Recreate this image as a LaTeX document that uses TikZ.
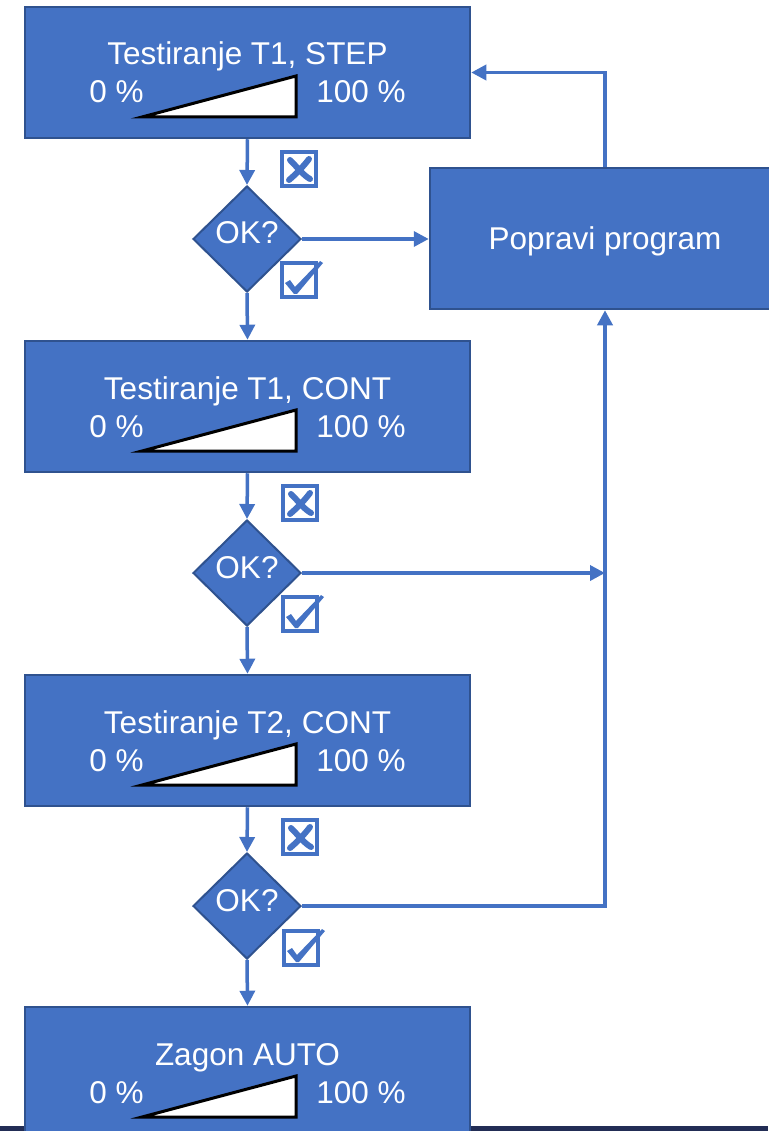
\documentclass[tikz,border=0pt]{standalone}
\usepackage{fontspec}
\setmainfont{Liberation Sans}
\usetikzlibrary{shapes.geometric,arrows.meta}
\definecolor{boxblue}{HTML}{4472C4}
\definecolor{boxedge}{HTML}{2F528F}
\definecolor{footbar}{HTML}{222D55}

% one test stage: box, title, 0-100 % ramp
% #1 name, #2 top edge, #3 title
\newcommand\stagebox[3]{%
  \node[stepbox] (#1) at (247.5,#2+65.5) {};
  \node[lbl] (#1-title) at (247.5,#2+58) {#3};
  \node[lbl] (#1-lo) at (116.5,#2+96) {0 \%};
  \node[lbl] (#1-hi) at (361,#2+96) {100 \%};
  \draw[ramp] (142,#2+110) -- (296,#2+110) -- (296,#2+69) -- cycle;
}
% decision diamond with its question
\newcommand\okdiamond[2]{%
  \node[decision] (#1) at (247,#2) {};
  \node[lbl] (#1-q) at (247,#2+5) {OK?};
}

\begin{document}
\begin{tikzpicture}[x=1pt,y=-1pt,
  font=\fontsize{31.5}{37}\selectfont,
  stepbox/.style={rectangle, fill=boxblue, draw=boxedge, line width=2.5pt,
    minimum width=445pt, minimum height=131pt, inner sep=0pt},
  fixbox/.style={rectangle, fill=boxblue, draw=boxedge, line width=2.5pt,
    minimum width=350pt, minimum height=141pt, inner sep=0pt,
    text=white, text height=22pt, text depth=0pt},
  decision/.style={diamond, fill=boxblue, draw=boxedge, line width=2pt,
    minimum width=108pt, minimum height=106pt, inner sep=0pt},
  lbl/.style={text=white, anchor=base, inner sep=0pt},
  ramp/.style={fill=white, draw=black, line width=3pt, line join=miter},
  conn/.style={draw=boxblue, line width=3.5pt,
    -{Triangle[length=15pt,width=15pt]}},
  chk/.style={rectangle, draw=boxblue, fill=white, line width=3.5pt,
    minimum size=34pt, inner sep=0pt},
  markline/.style={draw=boxblue, line width=6pt, line cap=round},
  nobox/.pic={
    \node[chk] (-box) at (0,0) {};
    \draw[markline] (-9,-9) .. controls (-1,-1) and (4,6) .. (11,10);
    \draw[markline] (10,-10) .. controls (4,-2) and (-4,6) .. (-10,11);
  },
  yesbox/.pic={
    \node[chk] (-box) at (0,0) {};
    \fill[boxblue] (-14,3) -- (-9,0) -- (-4,7) -- (21,-19) -- (24,-17)
      -- (-2,14) -- (-5,14) -- cycle;
  }
]
\useasboundingbox (0,0) rectangle (768,1131);
\fill[white] (0,0) rectangle (768,1131);
\fill[footbar] (0,1126) rectangle (768,1131);

% stages
\stagebox{s1}{7}{Testiranje T1, STEP}
\stagebox{s2}{341}{Testiranje T1, CONT}
\stagebox{s3}{675}{Testiranje T2, CONT}
\stagebox{s4}{1007}{Zagon AUTO}

% decisions
\okdiamond{d1}{239}
\okdiamond{d2}{573}
\okdiamond{d3}{906}

% fix-up step
\node[fixbox] (fix) at (605,238.5) {Popravi program};

% main flow
\draw[conn] (s1.south) -- (d1.north);
\draw[conn] (d1.south) -- (s2.north);
\draw[conn] (s2.south) -- (d2.north);
\draw[conn] (d2.south) -- (s3.north);
\draw[conn] (s3.south) -- (d3.north);
\draw[conn] (d3.south) -- (s4.north);

% failure paths
\draw[conn] (d1.east) -- (d1.east -| fix.west);
\draw[conn] (fix.north) |- (s1.east);
\draw[conn] (d2.east) -- (d2.east -| fix.south);
\draw[conn] (d3.east) -| (fix.south);

% outcome marks
\pic (x1) at (299,169) {nobox};
\pic (c1) at (299,280) {yesbox};
\pic (x2) at (300,503) {nobox};
\pic (c2) at (300,614) {yesbox};
\pic (x3) at (300,837) {nobox};
\pic (c3) at (301,948) {yesbox};
\end{tikzpicture}
\end{document}
